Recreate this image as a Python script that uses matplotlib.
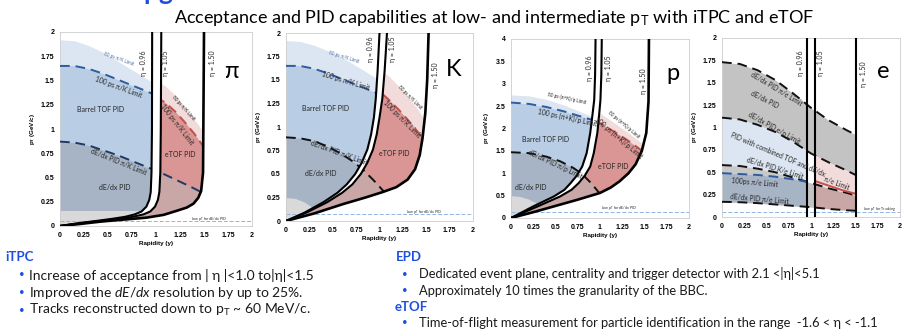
import matplotlib.pyplot as plt
from matplotlib.patches import Polygon

plt.rcParams['font.family'] = ['Lato', 'DejaVu Sans']
plt.rcParams['mathtext.fontset'] = 'custom'
plt.rcParams['mathtext.rm'] = 'Lato'
plt.rcParams['mathtext.it'] = 'Lato:italic'
plt.rcParams['mathtext.bf'] = 'Liberation Sans:bold'

# ---------------- values ----------------
X_TICKS = [0, 0.25, 0.5, 0.75, 1, 1.25, 1.5, 1.75, 2]
X_TICK_LABELS = ['0', '0.25', '0.5', '0.75', '1', '1.25', '1.5', '1.75', '2']
Y_TICKS_4 = [0, 0.5, 1, 1.5, 2, 2.5, 3, 3.5, 4]
Y_TICK_LABELS_4 = ['0', '0.5', '1', '1.5', '2', '2.5', '3', '3.5', '4']
ETA_LABELS = ['η = 0.96', 'η = 1.05', 'η = 1.50']
ETA_LINES = [0.96, 1.05, 1.50]

# pion panel: eta curves (rapidity, pT)
PI_ETA096_Y = [0, 0.2, 0.4, 0.55, 0.68, 0.78, 0.85, 0.90, 0.93, 0.945, 0.953, 0.958, 0.96]
PI_ETA105_Y = [0, 0.22, 0.45, 0.62, 0.76, 0.87, 0.94, 0.99, 1.02, 1.035, 1.045, 1.05, 1.055]
PI_ETA_PT = [0, 0.03, 0.055, 0.075, 0.095, 0.12, 0.15, 0.2, 0.27, 0.35, 0.55, 1.0, 2.0]
PI_ETA150_Y = [0, 0.2, 0.42, 0.65, 0.9, 1.08, 1.21, 1.32, 1.39, 1.44, 1.47, 1.49, 1.50]
PI_ETA150_PT = [0, 0.02, 0.045, 0.065, 0.086, 0.115, 0.155, 0.19, 0.23, 0.29, 0.36, 0.55, 2.0]
PI_TOF80_Y = [0, 0.15, 0.3, 0.45, 0.6, 0.75, 0.9, 1.0]
PI_TOF80_PT = [1.92, 1.91, 1.86, 1.79, 1.70, 1.61, 1.52, 1.46]
PI_TOF100_Y = [0, 0.15, 0.3, 0.45, 0.6, 0.75, 0.9, 0.97]
PI_TOF100_PT = [1.65, 1.65, 1.62, 1.57, 1.51, 1.45, 1.39, 1.36]
PI_DEDX_Y = [0, 0.15, 0.3, 0.45, 0.6, 0.75, 0.9, 1.05, 1.2, 1.35, 1.45, 1.5]
PI_DEDX_PT = [0.87, 0.86, 0.83, 0.78, 0.73, 0.67, 0.61, 0.55, 0.48, 0.41, 0.36, 0.34]
PI_LOWGRAY_Y = [0, 2]
PI_LOWGRAY_PT = [0.15, 0.15]
PI_ETOF80_Y = [1.0, 1.1, 1.2, 1.3, 1.4, 1.5, 1.55]
PI_ETOF80_PT = [1.50, 1.44, 1.35, 1.23, 1.10, 0.96, 0.90]
PI_ETOF100_Y = [1.0, 1.1, 1.2, 1.3, 1.4, 1.5, 1.55]
PI_ETOF100_PT = [1.33, 1.27, 1.18, 1.07, 0.95, 0.81, 0.75]
PI_LOW_PT = 0.048

# kaon panel
K_ETA096_Y = [0, 0.2, 0.4, 0.55, 0.65, 0.74, 0.81, 0.87, 0.91, 0.94, 0.96, 0.98, 1.0]
K_ETA105_Y = [0, 0.22, 0.44, 0.6, 0.71, 0.80, 0.87, 0.93, 0.97, 1.0, 1.03, 1.055, 1.08]
K_ETA_PT = [0, 0.09, 0.2, 0.3, 0.39, 0.5, 0.62, 0.76, 0.92, 1.1, 1.3, 1.6, 2.0]
K_ETA150_Y = [0, 0.3, 0.61, 0.85, 1.04, 1.18, 1.30, 1.38, 1.43, 1.46, 1.49, 1.51, 1.525]
K_ETA150_PT = [0, 0.08, 0.18, 0.25, 0.31, 0.36, 0.44, 0.55, 0.70, 0.88, 1.15, 1.5, 2.0]
K_TOF80_Y = [0, 0.15, 0.3, 0.45, 0.6, 0.75, 0.9, 1.0]
K_TOF80_PT = [1.92, 1.91, 1.87, 1.81, 1.74, 1.65, 1.56, 1.50]
K_TOF100_Y = [0, 0.15, 0.3, 0.45, 0.6, 0.75, 0.9, 0.97]
K_TOF100_PT = [1.65, 1.65, 1.62, 1.57, 1.51, 1.45, 1.39, 1.36]
K_DEDX_Y = [0, 0.15, 0.3, 0.45, 0.6, 0.72, 0.83, 0.94, 1.05]
K_DEDX_PT = [0.89, 0.88, 0.85, 0.79, 0.71, 0.63, 0.54, 0.43, 0.31]
K_LOWGRAY_Y = [0, 0.1, 0.2, 0.3, 0.37, 0.40]
K_LOWGRAY_PT = [0.25, 0.24, 0.20, 0.13, 0.05, 0.0]
K_ETOF80_Y = [0.8, 0.9, 1.0, 1.1, 1.2, 1.3, 1.4, 1.5, 1.55]
K_ETOF80_PT = [1.85, 1.74, 1.62, 1.54, 1.44, 1.33, 1.20, 1.05, 0.98]
K_ETOF100_Y = [0.8, 0.9, 1.0, 1.1, 1.2, 1.3, 1.4, 1.5, 1.55]
K_ETOF100_PT = [1.58, 1.47, 1.38, 1.29, 1.19, 1.08, 0.96, 0.84, 0.78]
K_LOW_PT = 0.075

# proton panel
P_ETA096_Y = [0, 0.25, 0.48, 0.6, 0.67, 0.74, 0.8, 0.85, 0.89, 0.915, 0.935, 0.945, 0.95]
P_ETA105_Y = [0, 0.30, 0.55, 0.68, 0.76, 0.83, 0.89, 0.93, 0.97, 0.99, 1.005, 1.015, 1.02]
P_ETA_PT = [0, 0.26, 0.48, 0.63, 0.78, 0.95, 1.15, 1.45, 1.9, 2.3, 2.64, 3.2, 4.0]
P_ETA150_Y = [0, 0.25, 0.5, 0.75, 1.0, 1.12, 1.22, 1.32, 1.40, 1.47, 1.52, 1.545, 1.55]
P_ETA150_PT = [0, 0.13, 0.27, 0.41, 0.56, 0.68, 0.82, 1.0, 1.2, 1.5, 1.9, 2.6, 4.0]
P_TOF80_Y = [0, 0.2, 0.4, 0.6, 0.8, 1.0]
P_TOF80_PT = [2.75, 2.73, 2.65, 2.52, 2.36, 2.2]
P_TOF100_Y = [0, 0.2, 0.4, 0.6, 0.8, 0.95]
P_TOF100_PT = [2.58, 2.55, 2.48, 2.38, 2.26, 2.17]
P_DEDX_Y = [0, 0.2, 0.4, 0.55, 0.7, 0.8, 0.9, 1.0]
P_DEDX_PT = [1.47, 1.45, 1.37, 1.27, 1.12, 0.98, 0.78, 0.54]
P_LOWGRAY_Y = [0, 0.1, 0.2, 0.3, 0.38, 0.44]
P_LOWGRAY_PT = [0.5, 0.48, 0.42, 0.32, 0.2, 0.0]
P_ETOF80_Y = [0.8, 0.9, 1.0, 1.1, 1.2, 1.3, 1.4, 1.5, 1.6]
P_ETOF80_PT = [2.6, 2.46, 2.34, 2.21, 2.07, 1.93, 1.78, 1.62, 1.46]
P_ETOF100_Y = [0.8, 0.9, 1.0, 1.1, 1.2, 1.3, 1.4, 1.5, 1.6]
P_ETOF100_PT = [2.36, 2.24, 2.12, 2.0, 1.88, 1.75, 1.61, 1.46, 1.31]
P_LOW_PT = 0.13

# electron panel
E_Y = [0, 0.2, 0.4, 0.6, 0.8, 1.0, 1.2, 1.4, 1.5]
E_PIE_UP_PT = [1.73, 1.71, 1.64, 1.53, 1.38, 1.22, 1.08, 0.97, 0.92]
E_EP_PT = [1.11, 1.09, 1.03, 0.95, 0.84, 0.71, 0.61, 0.52, 0.47]
E_KE_PT = [0.58, 0.57, 0.54, 0.50, 0.44, 0.38, 0.32, 0.27, 0.24]
E_PIE_LOW_PT = [0.17, 0.165, 0.155, 0.14, 0.125, 0.11, 0.09, 0.075, 0.07]
E_TOF100_PT = [0.49, 0.48, 0.47, 0.45, 0.42, 0.385, 0.35, 0.32, 0.30]
E_ETOF_Y = [1.05, 1.2, 1.35, 1.5]
E_ETOF_PT = [0.40, 0.35, 0.30, 0.26]
E_LOW_PT = 0.052

# colours
LIGHT_BLUE = '#dce6f2'
MID_BLUE = '#b9cde5'
SLATE = '#a7b4c5'
LIGHT_GRAY = '#d9d9d9'
GRAY = '#c3c3c3'
LIGHT_PINK = '#f2dcdb'
RED = '#d99694'
DUSKY = '#c9a7a7'
NAVY = '#1f3864'
BLUE_DASH = '#2e5c9e'
RED_DASH = '#c0504d'
LOW_LINE = '#8eb4e3'
SLIDE_BLUE = '#1f4fe0'
TXT = '#262626'
ARIAL = ['Liberation Sans', 'DejaVu Sans']

fig = plt.figure(figsize=(9.02, 3.31), dpi=100)
W, H = 902, 331


def add_axes_px(l, r, t, b):
    return fig.add_axes([l / W, 1 - b / H, (r - l) / W, (b - t) / H])


def style_axes(ax, ymax, yticks, ylabels):
    ax.set_xlim(0, 2)
    ax.set_ylim(0, ymax)
    ax.set_xticks(X_TICKS)
    ax.set_xticklabels(X_TICK_LABELS, fontsize=5, fontweight='bold', family=ARIAL)
    ax.set_yticks(yticks)
    ax.set_yticklabels(ylabels, fontsize=5, fontweight='bold', family=ARIAL)
    ax.tick_params(length=0, pad=4)
    for s in ax.spines.values():
        s.set_color('#cccccc')
        s.set_linewidth(0.6)
    ax.set_xlabel('Rapidity (y)', fontsize=4.5, fontweight='bold', family=ARIAL, labelpad=2)
    ax.set_ylabel(r'p$_\mathbf{T}$ (GeV/c)', fontsize=4.5, fontweight='bold', family=ARIAL,
                  labelpad=3)


def clipped(artist, patch):
    artist.set_clip_path(patch)
    return artist


def hadron_panel(ax, ymax, eta096, eta105, eta150, tof80, tof100, dedx, lowgray,
                 etof80, etof100, low_pt, dedx_color):
    barrel = Polygon(list(zip(*eta096)) + [(0, ymax)], closed=True, transform=ax.transData)
    etof = Polygon(list(zip(*eta105)) + list(zip(*eta150))[::-1], closed=True,
                   transform=ax.transData)

    # barrel TOF / dE/dx regions
    clipped(ax.fill_between(*tof80, color=LIGHT_BLUE, lw=0), barrel)
    clipped(ax.fill_between(*tof100, color=MID_BLUE, lw=0), barrel)
    clipped(ax.fill_between(*dedx, color=SLATE, lw=0), barrel)
    clipped(ax.fill_between(*lowgray, color=LIGHT_GRAY, lw=0), barrel)
    # eTOF regions
    clipped(ax.fill_between(*etof80, color=LIGHT_PINK, lw=0), etof)
    clipped(ax.fill_between(*etof100, color=RED, lw=0), etof)
    clipped(ax.fill_between(*dedx, color=DUSKY, lw=0), etof)

    ax.axhline(low_pt, color=LOW_LINE, lw=0.7, ls=(0, (4, 2)), zorder=2)

    clipped(ax.plot(*tof100, color=BLUE_DASH, lw=1.4, ls=(0, (5, 3)), zorder=3)[0], barrel)
    clipped(ax.plot(*dedx, color=dedx_color, lw=1.4, ls=(0, (5, 3)), zorder=3)[0], barrel)
    clipped(ax.plot(*dedx, color=dedx_color, lw=1.4, ls=(0, (5, 3)), zorder=3)[0], etof)
    clipped(ax.plot(*etof100, color=RED_DASH, lw=1.4, ls=(0, (5, 3)), zorder=3)[0], etof)

    ax.plot(*eta096, color='black', lw=1.5, zorder=4)
    ax.plot(*eta105, color='black', lw=1.5, zorder=4)
    ax.plot(*eta150, color='black', lw=1.9, zorder=4)


def small(ax, x, y, s, rot=0, size=4.5, color=TXT):
    ax.text(x, y, s, rotation=rot, fontsize=size, color=color, ha='center', va='center',
            rotation_mode='anchor', zorder=5)


# ---------------- pion ----------------
ax = add_axes_px(60, 252, 32, 226)
hadron_panel(ax, 2, (PI_ETA096_Y, PI_ETA_PT), (PI_ETA105_Y, PI_ETA_PT),
             (PI_ETA150_Y, PI_ETA150_PT), (PI_TOF80_Y, PI_TOF80_PT),
             (PI_TOF100_Y, PI_TOF100_PT), (PI_DEDX_Y, PI_DEDX_PT),
             (PI_LOWGRAY_Y, PI_LOWGRAY_PT), (PI_ETOF80_Y, PI_ETOF80_PT),
             (PI_ETOF100_Y, PI_ETOF100_PT), PI_LOW_PT, NAVY)
style_axes(ax, 2, X_TICKS, X_TICK_LABELS)
small(ax, 0.61, 1.72, '80 ps π/K Limit', -20, 3.3, '#4f6fa5')
small(ax, 0.61, 1.43, '100 ps π/K Limit', -20, 4.8)
small(ax, 0.42, 1.2, 'Barrel TOF PID', 0, 5)
small(ax, 0.61, 0.66, 'dE/dx PID π/K Limit', -22, 4.8)
small(ax, 0.57, 0.40, 'dE/dx PID', 0, 5)
small(ax, 1.25, 0.74, 'eTOF PID', 0, 5)
small(ax, 1.29, 1.22, '80 ps π/K Limit', -48, 3.3)
small(ax, 1.22, 1.05, '100 ps π/K Limit', -52, 4.8)
small(ax, 1.55, 0.075, 'Low p$_\\mathrm{T}$ for dE/dx PID', 0, 2.6)
for xl, lab in zip([0.87, 1.10, 1.59], ETA_LABELS):
    small(ax, xl, 1.68, lab, 90, 5)
ax.text(1.79, 1.59, 'π', fontsize=17, ha='center', va='center', color='black')

# ---------------- kaon ----------------
ax = add_axes_px(286, 473, 33, 221)
hadron_panel(ax, 2, (K_ETA096_Y, K_ETA_PT), (K_ETA105_Y, K_ETA_PT),
             (K_ETA150_Y, K_ETA150_PT), (K_TOF80_Y, K_TOF80_PT),
             (K_TOF100_Y, K_TOF100_PT), (K_DEDX_Y, K_DEDX_PT),
             (K_LOWGRAY_Y, K_LOWGRAY_PT), (K_ETOF80_Y, K_ETOF80_PT),
             (K_ETOF100_Y, K_ETOF100_PT), K_LOW_PT, '#111111')
style_axes(ax, 2, X_TICKS, X_TICK_LABELS)
small(ax, 0.62, 1.74, '80 ps π/K Limit', -17, 3.3, '#4f6fa5')
small(ax, 0.64, 1.49, '100 ps π/K Limit', -17, 4.8)
small(ax, 0.42, 1.2, 'Barrel TOF PID', 0, 5)
small(ax, 0.57, 0.72, 'dE/dx PID π/K Limit', -20, 4.8)
small(ax, 0.37, 0.50, 'dE/dx PID', 0, 5)
small(ax, 1.16, 0.72, 'eTOF PID', 0, 5)
small(ax, 1.33, 1.32, '80 ps π/K Limit', -45, 3.3)
small(ax, 1.24, 1.08, '100 ps π/K Limit', -45, 4.8)
small(ax, 1.48, 0.1, 'Low p$_\\mathrm{T}$ for dE/dx PID', 0, 2.6)
for xl, yl, lab in zip([0.90, 1.14, 1.60], [1.83, 1.83, 1.55], ETA_LABELS):
    small(ax, xl, yl, lab, 90, 5)
ax.text(1.79, 1.61, 'K', fontsize=17, ha='center', va='center', color='black')

# ---------------- proton ----------------
ax = add_axes_px(511, 689, 39, 218)
hadron_panel(ax, 4, (P_ETA096_Y, P_ETA_PT), (P_ETA105_Y, P_ETA_PT),
             (P_ETA150_Y, P_ETA150_PT), (P_TOF80_Y, P_TOF80_PT),
             (P_TOF100_Y, P_TOF100_PT), (P_DEDX_Y, P_DEDX_PT),
             (P_LOWGRAY_Y, P_LOWGRAY_PT), (P_ETOF80_Y, P_ETOF80_PT),
             (P_ETOF100_Y, P_ETOF100_PT), P_LOW_PT, '#111111')
style_axes(ax, 4, Y_TICKS_4, Y_TICK_LABELS_4)
small(ax, 0.63, 2.68, '80 ps (π+K)/p Limit', -12, 3.3)
small(ax, 0.63, 2.24, '100 ps (π+K)/p Limit', -12, 4.8)
small(ax, 0.39, 1.75, 'Barrel TOF PID', 0, 5)
small(ax, 0.50, 1.20, 'dE/dx PID π/p Limit', -25, 4.8)
small(ax, 0.22, 0.69, 'dE/dx PID', 0, 5)
small(ax, 1.15, 1.15, 'eTOF PID', 0, 5)
small(ax, 1.27, 2.09, '80 ps (π+K)/p Limit', -40, 3.3)
small(ax, 1.21, 1.80, '100 ps (π+K)/p Limit', -40, 4.8)
small(ax, 1.22, 0.22, 'Low p$_\\mathrm{T}$ for dE/dx PID', 0, 2.6)
for xl, yl, lab in zip([0.88, 1.09, 1.49], [3.35, 3.35, 3.05], ETA_LABELS):
    small(ax, xl, yl, lab, 90, 5)
ax.text(1.82, 3.23, 'p', fontsize=17, ha='center', va='center', color='black')

# ---------------- electron ----------------
ax = add_axes_px(722, 900, 38, 217)
barrel = Polygon([(0, 0), (0.96, 0), (0.96, 2), (0, 2)], transform=ax.transData)
gap = Polygon([(0.96, 0), (1.05, 0), (1.05, 2), (0.96, 2)], transform=ax.transData)
etof = Polygon([(1.05, 0), (1.5, 0), (1.5, 2), (1.05, 2)], transform=ax.transData)
ax.fill_between(E_Y, E_EP_PT, E_PIE_UP_PT, color=GRAY, lw=0)
clipped(ax.fill_between(E_Y, E_KE_PT, E_EP_PT, color=LIGHT_BLUE, lw=0), barrel)
clipped(ax.fill_between(E_Y, E_KE_PT, E_EP_PT, color=LIGHT_PINK, lw=0), etof)
clipped(ax.fill_between(E_Y, E_PIE_LOW_PT, E_KE_PT, color='#c8c8c8', lw=0), barrel)
clipped(ax.fill_between(E_Y, E_PIE_LOW_PT, E_KE_PT, color=GRAY, lw=0), gap)
clipped(ax.fill_between(E_Y, E_PIE_LOW_PT, E_KE_PT, color=DUSKY, lw=0), etof)
clipped(ax.fill_between(E_Y, E_PIE_LOW_PT, E_TOF100_PT, color=SLATE, lw=0), barrel)
ax.axhline(E_LOW_PT, color=LOW_LINE, lw=0.7, ls=(0, (4, 2)), zorder=2)
for pts in (E_PIE_UP_PT, E_EP_PT, E_KE_PT, E_PIE_LOW_PT):
    ax.plot(E_Y, pts, color='#111111', lw=1.4, ls=(0, (5, 3)), zorder=3)
clipped(ax.plot(E_Y, E_TOF100_PT, color=BLUE_DASH, lw=1.4, ls=(0, (5, 3)), zorder=3)[0],
        barrel)
ax.plot(E_ETOF_Y, E_ETOF_PT, color=RED_DASH, lw=1.4, zorder=3)
for xv in ETA_LINES:
    ax.axvline(xv, color='black', lw=1.5, zorder=4)
style_axes(ax, 2, X_TICKS, X_TICK_LABELS)
small(ax, 0.61, 1.43, 'dE/dx PID π/e Limit', -31, 4.8)
small(ax, 0.48, 1.31, 'dE/dx PID', -27, 4.8)
small(ax, 0.59, 0.99, 'dE/dx PID e/p Limit', -29, 4.8)
small(ax, 0.63, 0.70, 'PID with combined TOF and dE/dx', -23, 4.8)
small(ax, 0.59, 0.54, 'dE/dx PID K/e Limit', -17, 4.8)
small(ax, 0.37, 0.39, '100ps π/e Limit', -5, 4.8)
small(ax, 0.42, 0.20, 'dE/dx PID π/e Limit', -5, 4.8)
small(ax, 1.29, 0.38, 'π/e Limit', -20, 4.8)
small(ax, 1.77, 0.086, 'Low p$_\\mathrm{T}$ for Tracking', 0, 2.6)
for xl, yl, lab in zip([0.885, 1.11, 1.59], [1.72, 1.72, 1.6], ETA_LABELS):
    small(ax, xl, yl, lab, 90, 5)
ax.text(1.81, 1.63, 'e', fontsize=17, ha='center', va='center', color='black')

# ---------------- slide text ----------------
fig.text(62 / W, 1 - 0.5 / H, 'iTPC Upgrades', fontsize=19, fontweight='bold',
         color=SLIDE_BLUE, ha='left', va='baseline')
fig.text(494 / W, 1 - 18 / H,
         r'Acceptance and PID capabilities at low- and intermediate p$_\mathrm{T}$ with iTPC and eTOF',
         fontsize=13, ha='center', va='center', color='black')

fig.text(5 / W, 1 - 257 / H, 'iTPC', fontsize=9.5, fontweight='bold', color=SLIDE_BLUE, va='center')
fig.text(396 / W, 1 - 257 / H, 'EPD', fontsize=9.5, fontweight='bold', color=SLIDE_BLUE, va='center')
fig.text(395 / W, 1 - 307 / H, 'eTOF', fontsize=9.5, fontweight='bold', color=SLIDE_BLUE, va='center')

left_bullets = ['Increase of acceptance from | η |<1.0 to|η|<1.5',
                r'Improved the $\mathit{dE/dx}$ resolution by up to 25%.',
                r'Tracks reconstructed down to p$_\mathrm{T}$ ~ 60 MeV/c.']
right_bullets = ['Dedicated event plane, centrality and trigger detector with 2.1 <|η|<5.1',
                 'Approximately 10 times the granularity of the BBC.',
                 'Time-of-flight measurement for particle identification in the range  -1.6 < η < -1.1']
for yy, line in zip([275, 293, 310], left_bullets):
    fig.text(22 / W, 1 - yy / H, '•', fontsize=7, color=SLIDE_BLUE, ha='center', va='center')
    fig.text(29 / W, 1 - yy / H, line, fontsize=10, color='#1a1a1a', va='center')
for yy, line in zip([274, 291, 323], right_bullets):
    fig.text(405 / W, 1 - yy / H, '•', fontsize=7, color=SLIDE_BLUE, ha='center', va='center')
    fig.text(419 / W, 1 - yy / H, line, fontsize=9.3, color='#1a1a1a', va='center')

fig.savefig('out.png', dpi=100)
